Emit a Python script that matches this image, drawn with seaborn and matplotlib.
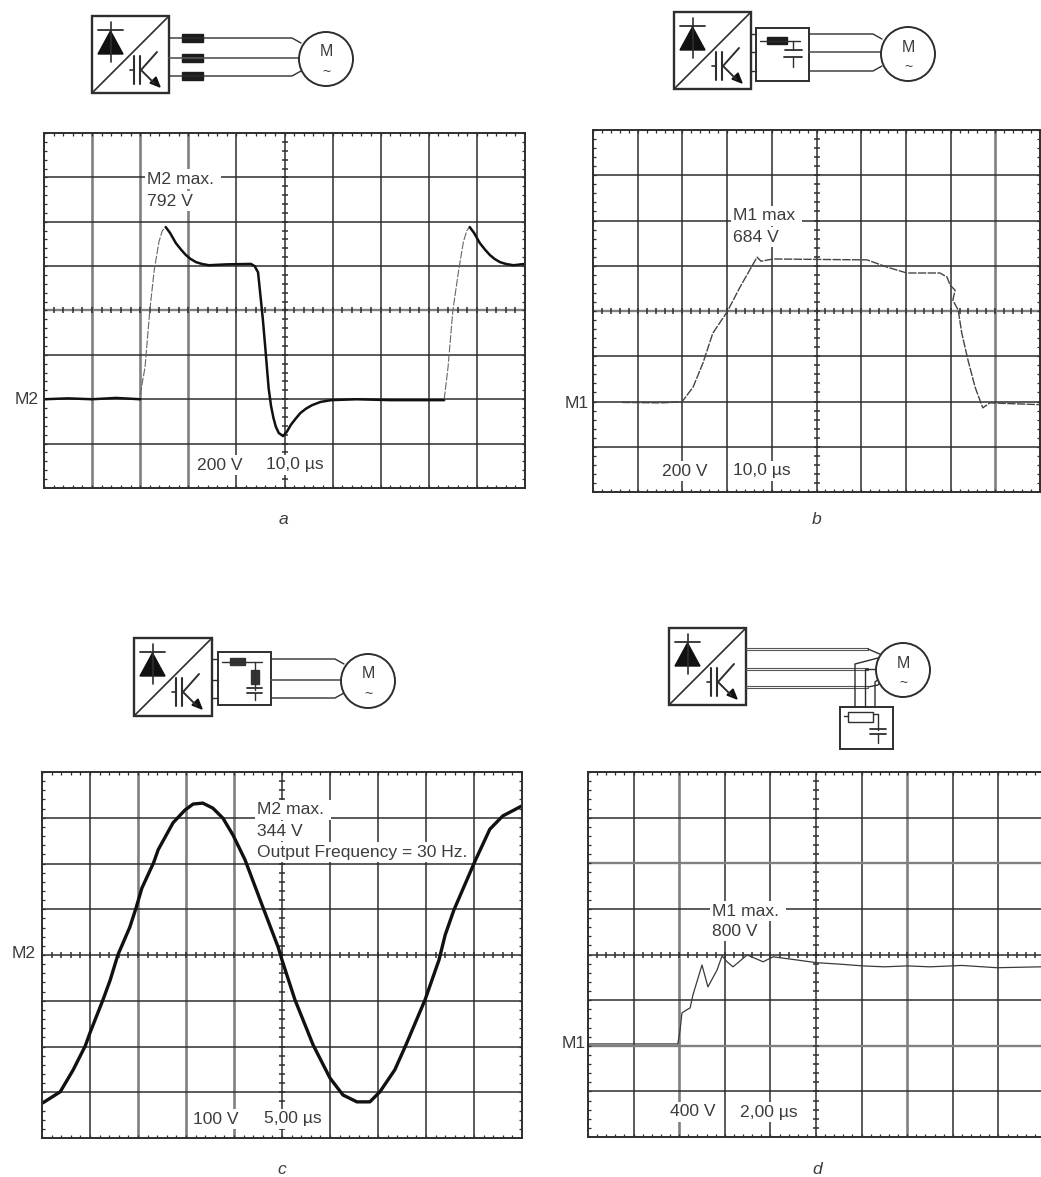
import numpy as np
import matplotlib
matplotlib.use('Agg')
import matplotlib.pyplot as plt
from matplotlib.patches import Rectangle, Circle, Polygon
import seaborn as sns

W, H = 1041, 1177

# traces in screen divisions (x 0-10, y 0-8)
a_flat_x = [0, 0.5, 1.0, 1.5, 2.0]
a_flat_y = [2.0, 2.02, 2.0, 2.03, 2.0]
a_rise_x = [2.0, 2.1, 2.2, 2.29, 2.39, 2.46, 2.53]
a_rise_y = [2.1, 2.72, 4.0, 4.9, 5.55, 5.8, 5.88]
a_main_x = [2.53, 2.62, 2.74, 2.85, 2.95, 3.05, 3.16, 3.28, 3.43, 3.8, 4.3, 4.38, 4.45, 4.51, 4.55, 4.6, 4.67,
            4.72, 4.77, 4.82, 4.88, 4.97, 5.05, 5.13, 5.23, 5.33, 5.45, 5.58, 5.75, 5.97, 6.5, 7.2, 8.32]
a_main_y = [5.88, 5.75, 5.52, 5.37, 5.25, 5.16, 5.09, 5.05, 5.02, 5.04, 5.05, 5.0, 4.86, 4.23, 3.8, 3.17, 2.25,
            1.85, 1.58, 1.38, 1.24, 1.17, 1.27, 1.42, 1.56, 1.69, 1.79, 1.87, 1.94, 1.98, 2.0, 1.98, 1.98]
a_rise2_x = [8.32, 8.4, 8.5, 8.62, 8.72, 8.79, 8.85]
a_rise2_y = [2.0, 2.72, 4.0, 4.9, 5.55, 5.8, 5.88]
a_end_x = [8.85, 8.94, 9.06, 9.17, 9.27, 9.37, 9.48, 9.6, 9.76, 10]
a_end_y = [5.88, 5.75, 5.52, 5.37, 5.25, 5.16, 5.09, 5.05, 5.02, 5.05]

b_x = [0.65, 1.5, 1.99, 2.24, 2.46, 2.68, 3.0, 3.29, 3.67, 3.76, 4.03, 5.0, 6.13, 6.58, 7.02, 7.76, 7.92, 7.99,
       8.1, 8.05, 8.17, 8.25, 8.39, 8.55, 8.72, 8.88, 10]
b_y = [1.98, 1.97, 1.99, 2.32, 2.85, 3.51, 3.98, 4.53, 5.19, 5.1, 5.15, 5.14, 5.13, 4.97, 4.84, 4.84, 4.75, 4.57,
       4.46, 4.24, 4.02, 3.51, 2.91, 2.31, 1.86, 1.97, 1.93]

c_x = [0.02, 0.38, 0.65, 0.9, 1.0, 1.27, 1.42, 1.58, 1.83, 1.96, 2.08, 2.33, 2.42, 2.73, 2.98, 3.15, 3.35, 3.56,
       3.77, 3.98, 4.23, 4.6, 4.92, 5.0, 5.27, 5.65, 6.0, 6.27, 6.56, 6.83, 7.04, 7.35, 7.58, 7.98, 8.27, 8.4, 8.58,
       9.02, 9.33, 9.6, 10]
c_y = [0.77, 1.01, 1.49, 2.01, 2.3, 3.02, 3.45, 4.0, 4.61, 5.03, 5.46, 6.03, 6.3, 6.89, 7.17, 7.3, 7.32, 7.21,
       6.99, 6.62, 6.08, 5.05, 4.17, 3.89, 3.02, 2.03, 1.31, 0.94, 0.79, 0.79, 1.01, 1.49, 2.03, 3.02, 3.89, 4.44, 4.98,
       6.05, 6.75, 7.04, 7.26]

d_x = [0, 1.97, 2.02, 2.06, 2.17, 2.24, 2.3, 2.5, 2.63, 2.83, 2.94, 3.05, 3.18, 3.49, 3.84, 4.06, 4.58, 5.02,
       5.5, 6.03, 6.5, 7.0, 7.5, 8.2, 8.97, 9.93]
d_y = [2.04, 2.04, 2.35, 2.72, 2.79, 2.83, 3.11, 3.77, 3.29, 3.66, 3.97, 3.84, 3.73, 3.99, 3.84, 3.95, 3.88, 3.82,
       3.79, 3.75, 3.73, 3.75, 3.73, 3.76, 3.71, 3.73]

sns.set_theme(style='white')
plt.rcParams['font.family'] = ['Liberation Sans', 'DejaVu Sans']
INK = '#2e2e2e'
GREY = '#808080'
TXT = '#3c3c3c'

fig = plt.figure(figsize=(W / 100, H / 100), dpi=100, facecolor='white')


def scope(left, top, right, bottom, grey_x=(), grey_y=()):
    ax = fig.add_axes([left / W, 1 - bottom / H, (right - left) / W, (bottom - top) / H])
    ax.set_xlim(0, 10)
    ax.set_ylim(0, 8)
    ax.set_xticks(range(1, 10))
    ax.set_yticks(range(1, 8))
    ax.set_xticklabels([])
    ax.set_yticklabels([])
    ax.tick_params(length=0)
    ax.grid(True, color=INK, lw=1.1)
    # some graticule lines came out paler and wider in the scan
    for i in grey_x:
        ax.get_xgridlines()[i - 1].set(color=GREY, lw=1.9)
    for i in grey_y:
        ax.get_ygridlines()[i - 1].set(color=GREY, lw=1.7)
    for s in ax.spines.values():
        s.set_color(INK)
        s.set_linewidth(1.4)
    # small graticule ticks on the frame and the centre cross
    xt = np.arange(0, 10.01, 0.2)
    yt = np.arange(0, 8.01, 0.2)
    for yy in [0.03, 7.97]:
        ax.plot(xt, [yy] * len(xt), ls='none', marker='|', ms=3.2, mew=0.9, color=INK)
    for xx in [0.03, 9.97]:
        ax.plot([xx] * len(yt), yt, ls='none', marker='_', ms=3.2, mew=0.9, color=INK)
    ax.plot(xt, [4] * len(xt), ls='none', marker='|', ms=5, mew=1.1, color=INK)
    ax.plot([5] * len(yt), yt, ls='none', marker='_', ms=5, mew=1.1, color=INK)
    return ax


def trace(ax, x, y, lw, color='#111111', ls='-'):
    sns.lineplot(x=x, y=y, ax=ax, estimator=None, sort=False, color=color, linewidth=lw, linestyle=ls)
    ax.set_xlabel('')
    ax.set_ylabel('')


ax_a = scope(44, 133, 525, 488, grey_x=(1, 2, 3), grey_y=(4,))
trace(ax_a, a_flat_x, a_flat_y, 1.8)
trace(ax_a, a_rise_x, a_rise_y, 0.8, '#666666', (0, (7, 1.5)))
trace(ax_a, a_main_x, a_main_y, 1.8)
trace(ax_a, a_rise2_x, a_rise2_y, 0.8, '#666666', (0, (7, 1.5)))
trace(ax_a, a_end_x, a_end_y, 1.8)

ax_b = scope(593, 130, 1040, 492, grey_x=(9,), grey_y=(4,))
trace(ax_b, b_x, b_y, 1.0, '#444444', (0, (6, 1)))

ax_c = scope(42, 772, 522, 1138, grey_x=(2, 3, 4))
trace(ax_c, c_x, c_y, 2.4)

ax_d = scope(588, 772, 1044, 1137, grey_x=(2, 7), grey_y=(2, 6))
trace(ax_d, d_x, d_y, 0.9, '#3a3a3a')

# overlay in pixel coordinates for the circuit sketches and the labels
ov = fig.add_axes([0, 0, 1, 1], facecolor='none')
ov.set_xlim(0, W)
ov.set_ylim(H, 0)
ov.axis('off')


def seg(pts, lw=1.0, color=INK):
    xs, ys = zip(*pts)
    ov.plot(xs, ys, color=color, lw=lw, solid_capstyle='round')


def inverter(x, y, s=77):
    ov.add_patch(Rectangle((x, y), s, s, fc='white', ec=INK, lw=1.7))
    seg([(x, y + s), (x + s, y)], 1.2)
    dx = x + 18.5
    seg([(x + 6, y + 14), (x + 31, y + 14)], 1.3)
    seg([(dx, y + 6), (dx, y + 46)], 1.2)
    ov.add_patch(Polygon([(dx, y + 15), (x + 6, y + 38), (x + 31, y + 38)], fc='#111111', ec='#111111'))
    seg([(x + 42, y + 40), (x + 42, y + 68)], 1.5)
    seg([(x + 48, y + 40), (x + 48, y + 68)], 1.5)
    seg([(x + 38, y + 54), (x + 42, y + 54)], 1.2)
    seg([(x + 49, y + 54), (x + 65, y + 36)], 1.4)
    seg([(x + 49, y + 54), (x + 62, y + 67)], 1.4)
    ov.add_patch(Polygon([(x + 68, y + 71), (x + 58, y + 67), (x + 64, y + 61)], fc='#111111', ec='#111111'))


def motor(cx, cy, r=27):
    ov.add_patch(Circle((cx, cy), r, fc='white', ec=INK, lw=1.4, zorder=3))
    ov.text(cx, cy - 7, 'M', ha='center', va='center', fontsize=11.5, color=TXT, zorder=4)
    ov.text(cx, cy + 13, '~', ha='center', va='center', fontsize=10, color=TXT, zorder=4)


def wires(x0, x1, ys, bend=9):
    seg([(x0, ys[0]), (x1, ys[0]), (x1 + bend, ys[0] + 5)])
    seg([(x0, ys[1]), (x1 + bend, ys[1])], 1.2, '#555555')
    seg([(x0, ys[2]), (x1, ys[2]), (x1 + bend, ys[2] - 5)])


# a
inverter(92, 16)
wires(169, 292, [38, 58, 76])
for wy in [38, 58, 76]:
    ov.add_patch(Rectangle((182, wy - 4), 21, 8, fc='#1c1c1c', ec='#1c1c1c'))
motor(326, 59)

# b
inverter(674, 12)
for wy in [34, 52, 71]:
    seg([(751, wy), (756, wy)])
ov.add_patch(Rectangle((756, 28), 53, 53, fc='white', ec=INK, lw=1.4))
wires(809, 873, [34, 52, 71])
motor(908, 54)
seg([(760, 41), (800, 41)])
ov.add_patch(Rectangle((767, 37), 20, 7, fc='#1c1c1c', ec='#1c1c1c'))
seg([(793, 41), (793, 50)])
seg([(785, 50), (802, 50)], 1.3)
seg([(784, 57), (802, 57)], 1.3)
seg([(793, 57), (793, 67)])

# c
inverter(134, 638, 78)
for wy in [659, 680, 698]:
    seg([(212, wy), (218, wy)])
ov.add_patch(Rectangle((218, 652), 53, 53, fc='white', ec=INK, lw=1.4))
wires(271, 335, [659, 680, 698])
motor(368, 681)
seg([(222, 662), (262, 662)])
ov.add_patch(Rectangle((230, 658), 15, 7, fc='#333333', ec='#333333'))
seg([(255, 662), (255, 690)])
ov.add_patch(Rectangle((251, 670), 8, 14, fc='#333333', ec='#333333'))
seg([(247, 688), (262, 688)], 1.3)
seg([(247, 693), (262, 693)], 1.3)
seg([(255, 693), (255, 700)])

# d
inverter(669, 628)
for wy in [649, 669, 687]:
    seg([(746, wy - 1), (868, wy - 1)], 0.8, '#555555')
    seg([(746, wy + 1), (868, wy + 1)], 0.8, '#555555')
seg([(868, 649), (882, 655)])
seg([(868, 687), (878, 685), (886, 676)])
seg([(855, 707), (855, 664), (878, 658)])
seg([(865, 707), (865, 669), (880, 669)])
seg([(875, 707), (875, 682), (884, 675)])
motor(903, 670)
ov.add_patch(Rectangle((840, 707), 53, 42, fc='white', ec=INK, lw=1.4))
ov.add_patch(Rectangle((848, 712), 25, 10, fc='white', ec=INK, lw=1))
seg([(844, 716), (848, 716)])
seg([(873, 714), (878, 714), (878, 730)])
seg([(870, 729), (886, 729)], 1.3)
seg([(870, 734), (886, 734)], 1.3)
seg([(878, 734), (878, 743)])


def label(x, y, s, box=True, **kw):
    bb = dict(fc='white', ec='none', pad=1.8) if box else None
    ov.text(x, y, s, fontsize=12.6, color=TXT, va='center', bbox=bb, zorder=6, **kw)


label(147, 179, 'M2 max. ')
label(147, 201, '792 V')
label(197, 465, '200 V')
label(266, 465, '10,0 µs')
label(15, 400, 'M2', box=False)
label(283, 520, 'a', box=False, style='italic', ha='center')

label(733, 216, 'M1 max ')
label(733, 237, '684 V')
label(662, 471, '200 V')
label(733, 471, '10,0 µs')
label(565, 404, 'M1', box=False)
label(817, 520, 'b', box=False, style='italic', ha='center')

label(257, 810, 'M2 max. ')
label(257, 831, '344 V')
label(257, 852, 'Output Frequency = 30 Hz.')
label(193, 1119, '100 V')
label(264, 1119, '5,00 µs')
label(12, 954, 'M2', box=False)
label(282, 1169, 'c', box=False, style='italic', ha='center')

label(712, 911, 'M1 max. ')
label(712, 931, '800 V')
label(670, 1112, '400 V')
label(740, 1112, '2,00 µs')
label(562, 1044, 'M1', box=False)
label(817, 1170, 'd', box=False, style='italic', ha='center')

fig.savefig('out.png', dpi=100, facecolor='white')
